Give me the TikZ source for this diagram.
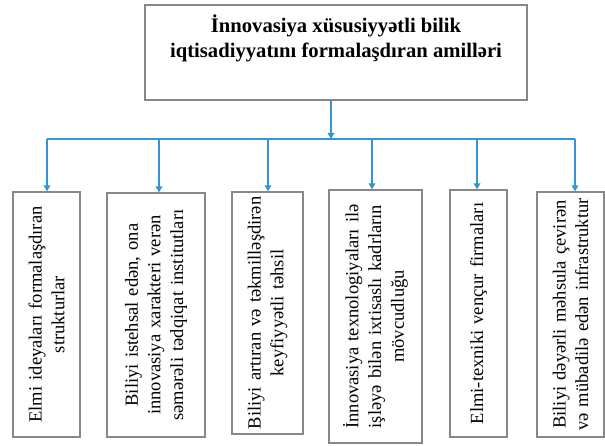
\documentclass[tikz,border=0pt]{standalone}
\usepackage{fontspec}
\setmainfont{Liberation Serif}
\usetikzlibrary{arrows.meta}
\definecolor{linkblue}{RGB}{52,148,214}
\definecolor{boxgray}{RGB}{135,135,135}

\begin{document}
\begin{tikzpicture}[x=0.75pt, y=-0.75pt,
        topbox/.style={draw=boxgray, line width=1pt, minimum width=286.5pt, minimum height=71.25pt,
            inner sep=0pt, align=center, font=\fontsize{15.5}{18.75}\selectfont\bfseries},
        sidebox/.style={draw=boxgray, line width=1pt, rotate=90, inner sep=0pt, align=center,
            font=\fontsize{13.9}{17}\selectfont},
        link/.style={linkblue, line width=0.9pt},
        linkarrow/.style={link, -{Triangle[width=5pt,length=4.5pt]}}]
        \useasboundingbox (0,0) rectangle (605,445);

        % main factor box
        \node[topbox] (top) at (336,52.5) {İnnovasiya xüsusiyyətli bilik\\ iqtisadiyyatını formalaşdıran amilləri\\ \strut};

        % factors
        \node[sidebox, minimum width=183.75pt, minimum height=50.25pt, text width=180pt] (b1) at (46.5,314.5)
            {Elmi ideyaları formalaşdıran\\ strukturlar};
        \node[sidebox, minimum width=183pt, minimum height=73.5pt, text width=180pt] (b2) at (156,315)
            {Biliyi istehsal edən, ona\\ innovasiya xarakteri verən\\ səmərəli tədqiqat institutları};
        \node[sidebox, minimum width=181.5pt, minimum height=53.25pt, text width=178pt] (b3) at (267.5,313)
            {Biliyi artıran və təkmilləşdirən\\ keyfiyyətli təhsil};
        \node[sidebox, minimum width=189.75pt, minimum height=69.75pt, text width=186pt] (b4) at (375.5,316.5)
            {İnnovasiya texnologiyaları ilə\\ işləyə bilən ixtisaslı kadrların\\ mövcudluğu};
        \node[sidebox, minimum width=185.25pt, minimum height=42.75pt, text width=182pt] (b5) at (478.5,313.5)
            {Elmi-texniki vençur firmaları};
        \node[sidebox, minimum width=183.75pt, minimum height=50.25pt, text width=180pt] (b6) at (570.5,314.5)
            {Biliyi dəyərli məhsula çevirən\\ və mübadilə edən infrastruktur};

        % connectors
        \coordinate (hub) at (331,139);
        \coordinate (j1) at (47,139);
        \coordinate (j2) at (159,139);
        \coordinate (j3) at (268,139);
        \coordinate (j4) at (372,139);
        \coordinate (j5) at (477,139);
        \coordinate (j6) at (575,139);

        \draw[linkarrow] (top.south -| hub) -- (hub);
        \draw[link] (j1) -- (j6);
        \foreach \i in {1,...,6}
            \draw[linkarrow] (j\i) -- (j\i |- b\i.east);
    \end{tikzpicture}
\end{document}
